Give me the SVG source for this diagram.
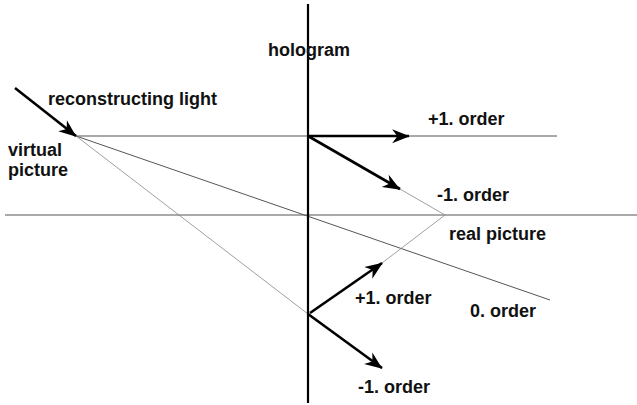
<svg xmlns="http://www.w3.org/2000/svg" width="637" height="405" viewBox="0 0 637 405">
<style>
text{font-family:"Liberation Sans",Arial,sans-serif;font-weight:bold;font-size:18px;fill:#111}
.thin{stroke:#555;stroke-width:1;fill:none}
.faint{stroke:#888;stroke-width:0.8;fill:none}
.arr{stroke:#000;stroke-width:2.6;fill:none;marker-end:url(#ah)}
.axis{stroke:#000;stroke-width:2.2;fill:none}
</style>
<defs>
<marker id="ah" viewBox="0 0 10 8" refX="9" refY="4" markerWidth="8" markerHeight="6.4" markerUnits="userSpaceOnUse" orient="auto" overflow="visible">
<path d="M0,0 L10,4 L0,8 L3,4 Z" fill="#000" transform="scale(2.2) translate(-5.5,-2)"/>
</marker>
</defs>
<rect width="637" height="405" fill="#fff"/>
<g id="connectors">
<line class="thin" x1="5" y1="215" x2="637" y2="215"/>
<line class="thin" x1="76" y1="136" x2="557" y2="136"/>
<line class="thin" x1="76" y1="136" x2="550" y2="300"/>
<line class="faint" x1="76" y1="136" x2="308" y2="314"/>
<line class="faint" x1="400" y1="189" x2="445" y2="215"/>
<line class="faint" x1="382" y1="263" x2="445" y2="215"/>
<line class="axis" x1="308" y1="4" x2="308" y2="403"/>
<path class="arr" d="M15,88 L76,136"/>
<path class="arr" d="M308,136 L409,136"/>
<path class="arr" d="M308,136 L400,189"/>
<path class="arr" d="M310,313 L382,263"/>
<path class="arr" d="M308,314 L382,368"/>
</g>
<g id="hologram"><text x="309" y="56" text-anchor="middle">hologram</text></g>
<g id="reconstructing-light"><text x="48" y="105">reconstructing light</text></g>
<g id="virtual-picture"><text x="8" y="156">virtual</text><text x="8" y="176">picture</text></g>
<g id="plus1-top"><text x="428" y="125">+1. order</text></g>
<g id="minus1-top"><text x="437" y="201">-1. order</text></g>
<g id="real-picture"><text x="449" y="240">real picture</text></g>
<g id="plus1-bottom"><text x="355" y="304">+1. order</text></g>
<g id="zero-order"><text x="470" y="317">0. order</text></g>
<g id="minus1-bottom"><text x="358" y="393">-1. order</text></g>
</svg>
